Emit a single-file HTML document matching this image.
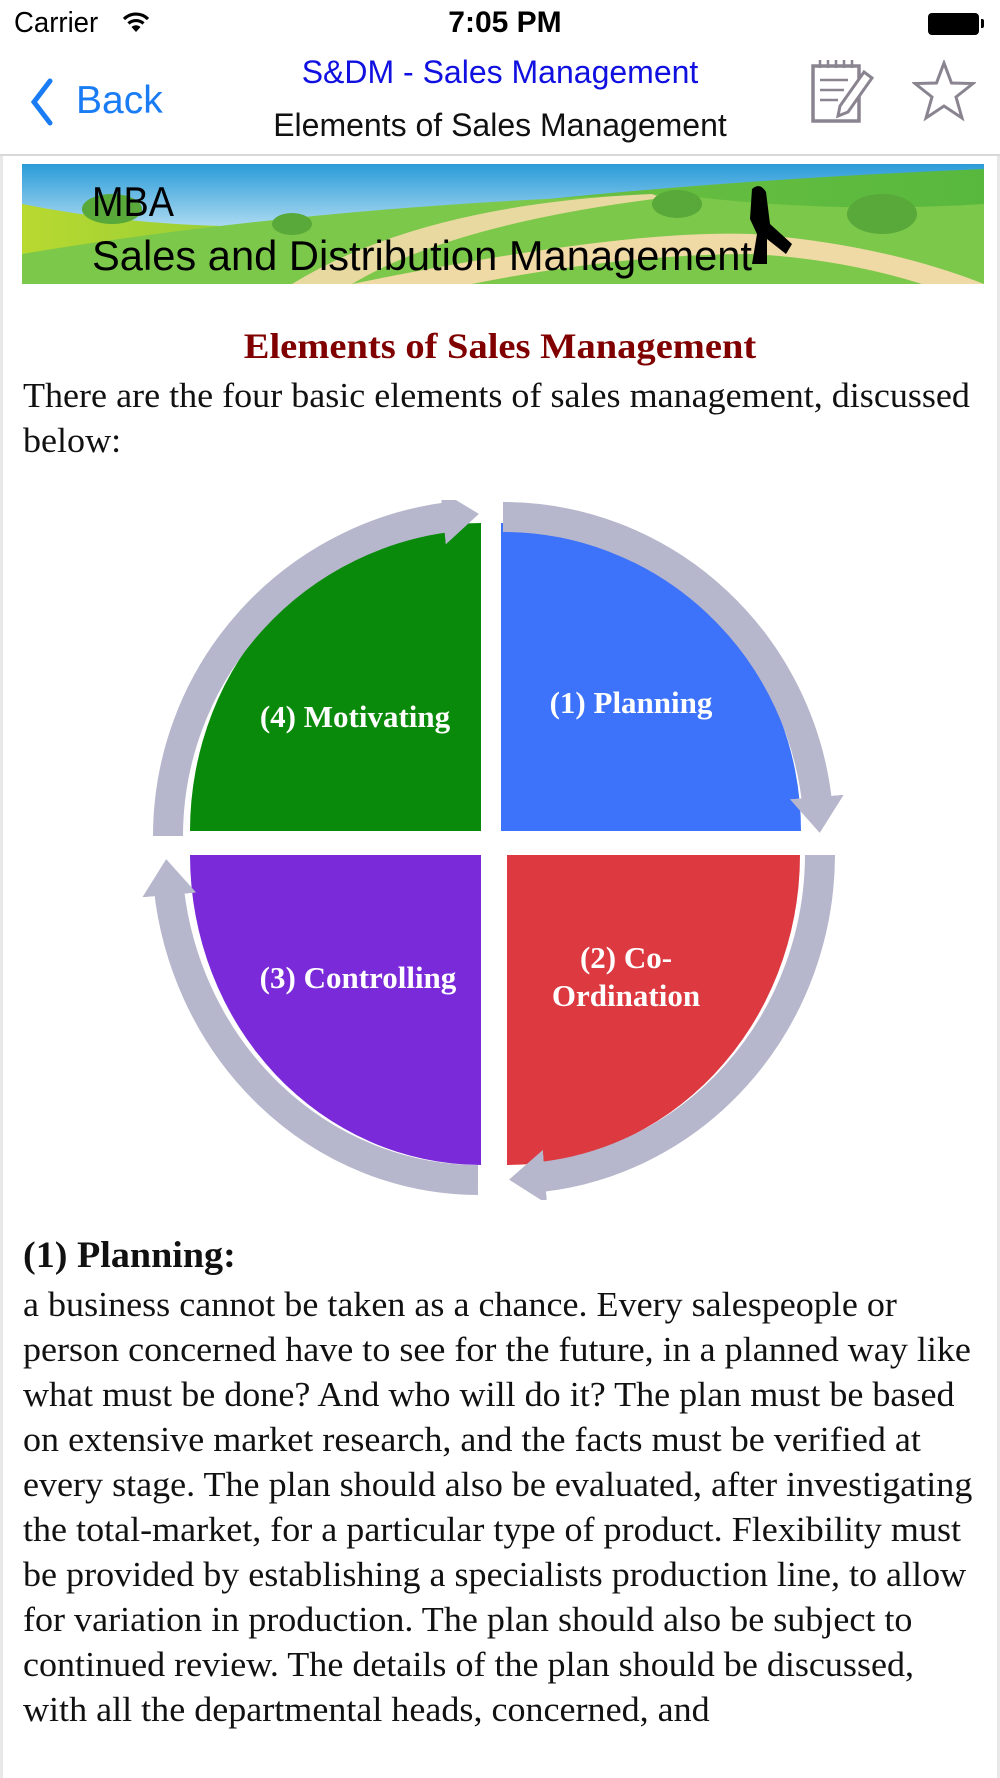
<!DOCTYPE html>
<html><head><meta charset="utf-8"><style>
html,body{margin:0;padding:0;}
body{width:1000px;height:1778px;position:relative;background:#fff;overflow:hidden;font-family:"Liberation Sans",sans-serif;}
.a{position:absolute;white-space:nowrap;}
.serif{font-family:"Liberation Serif",serif;}
.line{position:absolute;left:23px;font-family:"Liberation Serif",serif;font-size:35px;color:#111;white-space:nowrap;line-height:45px;transform:scaleX(1.03);transform-origin:left center;}
</style></head><body>
<!-- status bar -->
<div class="a" style="left:14px;top:7px;font-size:29px;color:#000;transform:scaleX(0.95);transform-origin:left;">Carrier</div>
<svg class="a" style="left:122px;top:11px" width="28" height="22" viewBox="0 0 28 22"><path d="M2 8 A17 17 0 0 1 26 8" stroke="#000" stroke-width="3.2" fill="none"/><path d="M6.5 12.5 A11 11 0 0 1 21.5 12.5" stroke="#000" stroke-width="3.2" fill="none"/><path d="M14 21 L9.5 16 A6.5 6.5 0 0 1 18.5 16 Z" fill="#000"/></svg>
<div class="a" style="left:0;width:1010px;text-align:center;top:6px;font-size:30px;font-weight:bold;color:#000;">7:05 PM</div>
<div class="a" style="left:928px;top:13px;width:51px;height:22px;background:#000;border-radius:4px;"></div>
<div class="a" style="left:981px;top:19px;width:3px;height:9px;background:#000;border-radius:0 2px 2px 0;"></div>
<!-- nav bar -->
<svg class="a" style="left:28px;top:78px" width="26" height="48" viewBox="0 0 26 48"><path d="M22 3 L6 24 L22 45" stroke="#1a7cf5" stroke-width="5" fill="none" stroke-linecap="round"/></svg>
<div class="a" style="left:76px;top:79px;font-size:39px;color:#1a7cf5;">Back</div>
<div class="a" style="left:200px;width:600px;text-align:center;top:54px;font-size:32px;color:#1010e0;">S&amp;DM - Sales Management</div>
<div class="a" style="left:200px;width:600px;text-align:center;top:107px;font-size:32px;color:#111;">Elements of Sales Management</div>
<svg class="a" style="left:810px;top:58px" width="66" height="66" viewBox="0 0 66 66"><rect x="3" y="8" width="46" height="55" fill="none" stroke="#8a8390" stroke-width="3.5"/><g stroke="#8a8390" stroke-width="2.5"><line x1="10" y1="2" x2="10" y2="10"/><line x1="18" y1="2" x2="18" y2="10"/><line x1="26" y1="2" x2="26" y2="10"/><line x1="34" y1="2" x2="34" y2="10"/><line x1="42" y1="2" x2="42" y2="10"/><line x1="10" y1="22" x2="38" y2="22"/><line x1="10" y1="32" x2="34" y2="32"/><line x1="10" y1="42" x2="28" y2="42"/></g><path d="M54 14 L62 20 L38 54 L28 58 L30 48 Z" fill="#fff" stroke="#8a8390" stroke-width="3"/></svg>
<svg class="a" style="left:912px;top:60px" width="64" height="62" viewBox="0 0 64 62"><path d="M32 3 L39.5 23 L61 23.5 L44 37 L50 58 L32 46 L14 58 L20 37 L3 23.5 L24.5 23 Z" fill="none" stroke="#8a8390" stroke-width="3"/></svg>
<div class="a" style="left:0;top:154px;width:1000px;height:2px;background:#d8d8d8;"></div>
<div class="a" style="left:0;top:156px;width:3px;height:1622px;background:#e8e8e8;"></div>
<div class="a" style="left:997px;top:156px;width:3px;height:1622px;background:#e8e8e8;"></div>
<!-- banner -->
<svg class="a" style="left:22px;top:164px" width="962" height="120" viewBox="0 0 962 120">
<defs><linearGradient id="sky" x1="0" y1="0" x2="0" y2="1"><stop offset="0" stop-color="#2a9bd8"/><stop offset="0.6" stop-color="#bfe3f5"/></linearGradient>
<linearGradient id="gr" x1="0" y1="0" x2="1" y2="0"><stop offset="0" stop-color="#b8d930"/><stop offset="0.5" stop-color="#6cc040"/><stop offset="1" stop-color="#58b83e"/></linearGradient></defs>
<rect width="962" height="120" fill="url(#sky)"/>
<path d="M0 40 Q150 70 320 60 Q600 20 962 5 L962 120 L0 120Z" fill="url(#gr)"/>
<path d="M0 90 Q300 40 650 30 Q800 50 962 40 L962 120 L0 120Z" fill="#7cc84a"/>
<path d="M270 120 Q400 40 630 30 L640 34 Q430 60 330 120Z" fill="#e8d9a0"/>
<path d="M330 120 Q600 65 730 70 Q860 80 962 120 L900 120 Q820 95 730 90 Q600 90 450 120Z" fill="#efd9a5"/>
<ellipse cx="90" cy="45" rx="30" ry="15" fill="#58a83a"/><ellipse cx="270" cy="60" rx="20" ry="11" fill="#58a83a"/><ellipse cx="655" cy="40" rx="25" ry="14" fill="#58a83a"/><ellipse cx="860" cy="50" rx="35" ry="20" fill="#58a83a"/>
<path d="M730 25 Q738 18 744 28 L748 60 L770 80 L764 90 L745 75 L745 100 L730 100 L735 70 L728 55Z" fill="#000"/>
<text x="70" y="52" font-family="'Liberation Sans Narrow','Liberation Sans',sans-serif" font-size="42" fill="#000" textLength="82" lengthAdjust="spacingAndGlyphs">MBA</text>
<text x="70" y="106" font-family="'Liberation Sans Narrow','Liberation Sans',sans-serif" font-size="42" fill="#000" textLength="660" lengthAdjust="spacingAndGlyphs">Sales and Distribution Management</text>
</svg>
<!-- heading -->
<div class="a serif" style="left:0;width:1000px;text-align:center;top:325px;font-size:36px;font-weight:bold;color:#800000;transform:scaleX(1.07);">Elements of Sales Management</div>
<div class="line" style="top:373px;">There are the four basic elements of sales management, discussed</div>
<div class="line" style="top:418px;">below:</div>
<!-- diagram -->
<svg class="a" style="left:0;top:500px" width="1000" height="700" viewBox="0 500 1000 700">
<defs>
<marker id="ah" markerWidth="1.8" markerHeight="1.8" refX="0.5" refY="0.9" orient="auto" markerUnits="strokeWidth"><path d="M0 0 L1.2 0.9 L0 1.8Z" fill="#b6b6cc"/></marker>
</defs>
<path d="M481 831 L190 831 A291 308 0 0 1 481 523 Z" fill="#0a8a0a"/>
<path d="M501 831 L501 523 A300 308 0 0 1 801 831 Z" fill="#3d72fa"/>
<path d="M507 855 L800 855 A293 310 0 0 1 507 1165 Z" fill="#dc3a40"/>
<path d="M481 855 L481 1165 A291 310 0 0 1 190 855 Z" fill="#7a2ad8"/>
<g fill="none" stroke="#b6b6cc" stroke-width="30">
<path d="M168 836 A322 322 0 0 1 458 516" marker-end="url(#ah)"/>
<path d="M503 517 A316 322 0 0 1 818 812" marker-end="url(#ah)"/>
<path d="M820 855 A313 325 0 0 1 530 1178" marker-end="url(#ah)"/>
<path d="M478 1180 A312 330 0 0 1 168 880" marker-end="url(#ah)"/>
</g>
<g font-family="'Liberation Serif',serif" font-weight="bold" font-size="31" fill="#fff" text-anchor="middle">
<text x="355" y="727">(4) Motivating</text>
<text x="631" y="713">(1) Planning</text>
<text x="626" y="968">(2) Co-</text>
<text x="626" y="1006">Ordination</text>
<text x="358" y="988">(3) Controlling</text>
</g>
</svg>
<!-- body -->
<div class="line" style="top:1233px;font-weight:bold;font-size:37px;">(1) Planning:</div>
<div class="line" style="top:1282px;">a business cannot be taken as a chance. Every salespeople or</div>
<div class="line" style="top:1327px;">person concerned have to see for the future, in a planned way like</div>
<div class="line" style="top:1372px;">what must be done? And who will do it? The plan must be based</div>
<div class="line" style="top:1417px;">on extensive market research, and the facts must be verified at</div>
<div class="line" style="top:1462px;">every stage. The plan should also be evaluated, after investigating</div>
<div class="line" style="top:1507px;">the total-market, for a particular type of product. Flexibility must</div>
<div class="line" style="top:1552px;">be provided by establishing a specialists production line, to allow</div>
<div class="line" style="top:1597px;">for variation in production. The plan should also be subject to</div>
<div class="line" style="top:1642px;">continued review. The details of the plan should be discussed,</div>
<div class="line" style="top:1687px;">with all the departmental heads, concerned, and</div>
</body></html>
